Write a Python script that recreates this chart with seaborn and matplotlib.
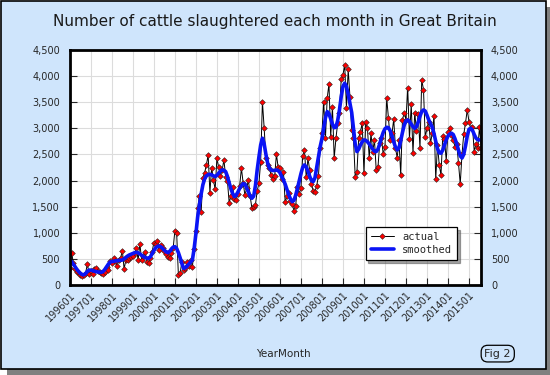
import numpy as np
import pandas as pd
import matplotlib
matplotlib.use("Agg")
import matplotlib.pyplot as plt
import seaborn as sns
from matplotlib.patches import Rectangle
from matplotlib.ticker import FuncFormatter, MultipleLocator

# Monthly cattle slaughter (thousands of head), 1996-01 .. 2015-08

months = [f"{y}{m:02d}" for y in range(1996, 2016) for m in range(1, 13)][:236]

actual = [
    330, 620, 420, 310, 255, 230, 200, 180, 185, 230, 400, 220,        # 1996
    260, 210, 300, 325, 275, 250, 230, 210, 240, 345, 290, 466,        # 1997
    430, 511, 450, 364, 480, 520, 657, 306, 480, 470, 511, 530,        # 1998
    555, 610, 703, 479, 785, 480, 560, 638, 447, 415, 520, 638,        # 1999
    810, 790, 836, 670, 766, 700, 650, 600, 543, 511, 620, 700,        # 2000
    1040, 1000, 191, 223, 447, 287, 330, 447, 364, 479, 351, 683,      # 2001
    1040, 1468, 1704, 1404, 2043, 2150, 2298, 2490, 1768, 2247, 2011, 1832,  # 2002
    2426, 2253, 2087, 2200, 2394, 2074, 2000, 1576, 1700, 1883, 1640, 1628,  # 2003
    1750, 1900, 2234, 1950, 1723, 1850, 2011, 1700, 1468, 1490, 1532, 1800,  # 2004
    1947, 2362, 3510, 3000, 2426, 2300, 2234, 2100, 2024, 2087, 2502, 2250,  # 2005
    2234, 2024, 2170, 1583, 1700, 1755, 1600, 1551, 1423, 1519, 1883, 1750,  # 2006
    1851, 2470, 2585, 2074, 2426, 2200, 1928, 1807, 1787, 1900, 2087, 2617,  # 2007
    2900, 3510, 2809, 3575, 3849, 2841, 3415, 2426, 2809, 3100, 3300, 3939,  # 2008
    4022, 4213, 3383, 4130, 3600, 2968, 2809, 2074, 2170, 2820, 2937, 3096,  # 2009
    2138, 3128, 3000, 2426, 2905, 2553, 2777, 2202, 2253, 2713, 2809, 2500,  # 2010
    2649, 3575, 3192, 2777, 2900, 3172, 2617, 2438, 2777, 2107, 3160, 3300,  # 2011
    3160, 3766, 2790, 3466, 2522, 3300, 2950, 3275, 2617, 3926, 3741, 2828,  # 2012
    3000, 3128, 2713, 2900, 3236, 2024, 2681, 2300, 2107, 2849, 2790, 2381,  # 2013
    2936, 3000, 2873, 2777, 2650, 2700, 2330, 1934, 2500, 2886, 3100, 3351,  # 2014
    3128, 3000, 3019, 2553, 2700, 2617, 3019, 2617,                          # 2015
]

smoothed = [
    470, 447, 400, 350, 300, 260, 225, 200, 195, 220, 260, 285,
    285, 275, 265, 255, 250, 245, 243, 260, 300, 350, 400, 440,
    447, 455, 460, 465, 470, 475, 479, 500, 530, 555, 575, 590,
    605, 618, 626, 615, 595, 570, 545, 525, 515, 511, 540, 600,
    660, 710, 740, 747, 730, 700, 665, 635, 619, 640, 690, 725,
    734, 700, 620, 520, 410, 319, 330, 360, 400, 440, 479, 700,
    980, 1300, 1530, 1740, 1920, 2030, 2090, 2110, 2120, 2107, 2090, 2074,
    2100, 2140, 2180, 2202, 2195, 2170, 2080, 1960, 1840, 1750, 1691, 1720,
    1780, 1850, 1900, 1940, 1930, 1860, 1780, 1700, 1660, 1700, 1900, 2200,
    2450, 2680, 2809, 2700, 2500, 2330, 2234, 2200, 2190, 2195, 2200, 2190,
    2150, 2070, 2011, 1930, 1830, 1730, 1650, 1596, 1620, 1720, 1850, 1990,
    2130, 2250, 2298, 2260, 2180, 2080, 2000, 1979, 2050, 2250, 2450, 2650,
    2800, 3000, 3200, 3319, 3280, 3180, 3080, 3010, 3020, 3150, 3350, 3600,
    3800, 3862, 3800, 3650, 3480, 3300, 3000, 2700, 2553, 2600, 2680, 2740,
    2777, 2770, 2740, 2700, 2650, 2600, 2560, 2553, 2600, 2700, 2820, 2920,
    2990, 3019, 3010, 2950, 2850, 2740, 2640, 2585, 2620, 2760, 2920, 3060,
    3140, 3160, 3130, 3080, 3030, 3000, 3030, 3120, 3230, 3320, 3351, 3330,
    3250, 3160, 3090, 3020, 2900, 2750, 2610, 2530, 2522, 2580, 2680, 2780,
    2850, 2890, 2905, 2880, 2800, 2700, 2580, 2470, 2430, 2500, 2660, 2850,
    2980, 3000, 2960, 2880, 2810, 2780, 2777, 2777,
]

df = pd.DataFrame({"YearMonth": months, "actual": actual, "smoothed": smoothed})
df["pos"] = np.arange(len(df))

sns.set_theme(style="white")
plt.rcParams["font.family"] = ["DejaVu Sans"]

bg = "#cfe5fc"
fig = plt.figure(figsize=(5.5, 3.75), dpi=100, facecolor="white")

# framed panel with drop shadow
fig.patches.append(Rectangle((0.012, 0.0), 0.988, 0.982, transform=fig.transFigure,
                             facecolor="#808080", edgecolor="none", zorder=-2))
fig.patches.append(Rectangle((0.001, 0.017), 0.991, 0.981, transform=fig.transFigure,
                             facecolor=bg, edgecolor="black", linewidth=1.2, zorder=-1))

ax = fig.add_axes([0.127, 0.24, 0.748, 0.627])
ax.set_facecolor("white")

sns.lineplot(data=df, x="pos", y="actual", ax=ax, color="black", linewidth=0.7,
             marker="D", markersize=2.9, markerfacecolor="#ff0000",
             markeredgecolor="#222222", markeredgewidth=0.4, label="actual")
sns.lineplot(data=df, x="pos", y="smoothed", ax=ax, color="#0a14f5", linewidth=2.6,
             label="smoothed")

ax.set_xlim(0, len(df) - 1)
ax.set_ylim(0, 4500)
ax.yaxis.set_major_locator(MultipleLocator(500))
ax.yaxis.set_major_formatter(FuncFormatter(lambda v, p: f"{v:,.0f}"))
tick_pos = df["pos"][::12]
ax.set_xticks(tick_pos)
ax.set_xticklabels(df["YearMonth"][::12], rotation=45, ha="right",
                   rotation_mode="anchor", fontsize=7)
ax.tick_params(axis="y", labelsize=7, direction="in", length=5, width=0.8,
               left=True, right=True, labelleft=True, labelright=True, pad=7)
ax.tick_params(axis="x", direction="in", length=5, width=0.8, bottom=True, pad=4)
ax.grid(True, color="#dcdcdc", linewidth=0.8)
ax.set_axisbelow(True)
for s in ax.spines.values():
    s.set_color("black")
    s.set_linewidth(2)

ax.set_xlabel("")
ax.set_ylabel("")
fig.text(0.515, 0.055, "YearMonth", ha="center", va="center", fontsize=7.5)
fig.text(0.5, 0.942, "Number of cattle slaughtered each month in Great Britain",
         ha="center", va="center", fontsize=11, color="#1a1a1a")
fig.text(0.905, 0.057, "Fig 2", ha="center", va="center", fontsize=8,
         bbox=dict(boxstyle="round,pad=0.3,rounding_size=0.6", facecolor=bg,
                   edgecolor="black", linewidth=0.9))

leg = ax.legend(loc="upper left", bbox_to_anchor=(0.706, 0.27), frameon=True,
                fancybox=False, shadow=True, edgecolor="black", framealpha=1,
                prop={"family": "DejaVu Sans Mono", "size": 7.5},
                handlelength=2.2, borderpad=0.5, labelspacing=0.3)
leg.get_frame().set_linewidth(0.9)

fig.savefig("out.png", dpi=100, facecolor=fig.get_facecolor())
